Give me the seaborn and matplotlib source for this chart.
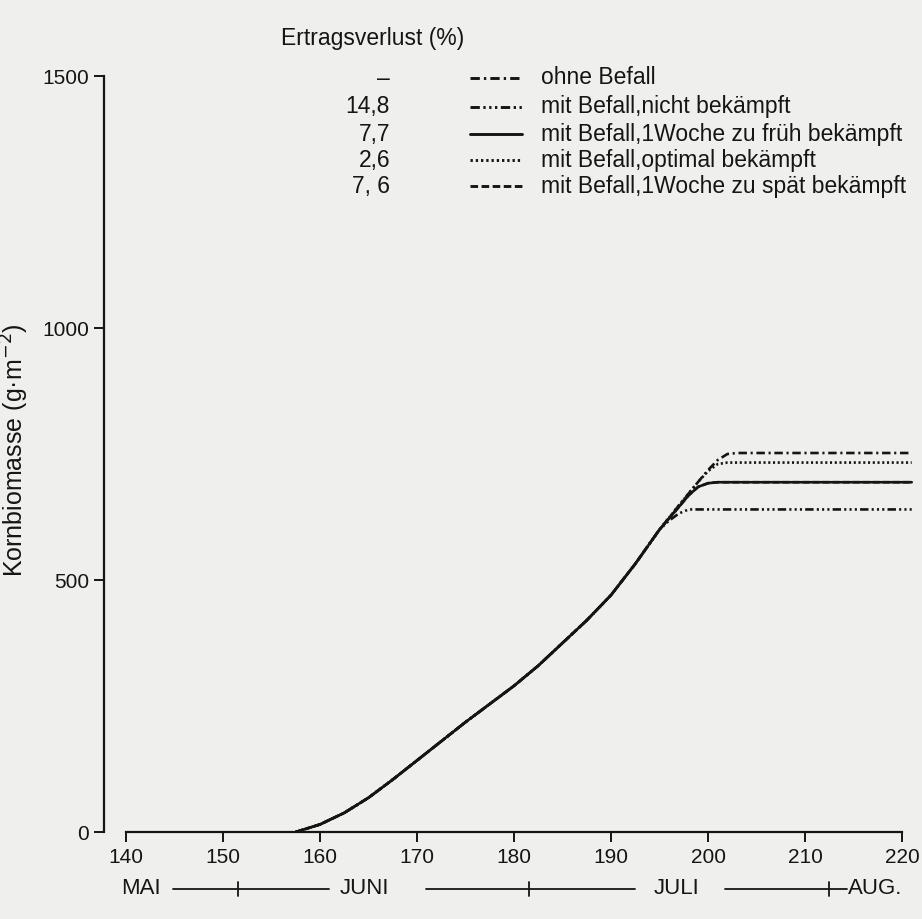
import matplotlib
matplotlib.use("Agg")
import matplotlib.pyplot as plt
from matplotlib.lines import Line2D
import matplotlib.transforms as mtransforms
import numpy as np
import pandas as pd
import seaborn as sns

sns.set_style("white")
plt.rcParams["font.family"] = ["Liberation Sans", "DejaVu Sans"]

# ---- data ----
common_days = [157.5, 160, 162.5, 165, 167.5, 170, 172.5, 175, 177.5, 180,
               182.5, 185, 187.5, 190, 192.5, 195]
common_vals = [0, 15, 38, 68, 104, 142, 180, 218, 254, 290,
               330, 375, 420, 470, 532, 600]

ohne_days = [197, 199, 200, 201, 202, 203, 221]
ohne_vals = [648, 695, 718, 738, 750, 752, 752]
nicht_days = [196, 197, 198, 221]
nicht_vals = [618, 632, 640, 640]
frueh_days = [197, 198, 199, 200, 201, 221]
frueh_vals = [645, 668, 685, 692, 694, 694]
optimal_days = [197, 199, 200, 201, 202, 221]
optimal_vals = [648, 695, 716, 730, 733, 733]
spaet_days = [197, 198, 199, 200, 201, 221]
spaet_vals = [645, 668, 685, 692, 694, 694]

series_names = ["ohne Befall", "mit Befall,nicht bekämpft",
                "mit Befall,1Woche zu früh bekämpft",
                "mit Befall,optimal bekämpft",
                "mit Befall,1Woche zu spät bekämpft"]
losses = ["\u2013", "14,8", "7,7", "2,6", "7, 6"]
x_ticks = [140, 150, 160, 170, 180, 190, 200, 210, 220]
y_ticks = [0, 500, 1000, 1500]
month_names = ["MAI", "JUNI", "JULI", "AUG."]
month_bounds = [151.5, 181.5, 212.5]

tails = [(ohne_days, ohne_vals), (nicht_days, nicht_vals), (frueh_days, frueh_vals),
         (optimal_days, optimal_vals), (spaet_days, spaet_vals)]
rows = []
for name, (d, v) in zip(series_names, tails):
    for dd, vv in zip(common_days + d, common_vals + v):
        rows.append({"day": dd, "value": vv, "series": name})
df = pd.DataFrame(rows)

dash_map = {
    series_names[0]: (3.2, 1.4, 0.8, 1.4),
    series_names[1]: (3.2, 1.2, 0.8, 1.2, 0.8, 1.2, 0.8, 1.2),
    series_names[2]: "",
    series_names[3]: (0.8, 1.0),
    series_names[4]: (2.6, 1.2),
}

BG = "#efefed"
INK = "#151515"
W, H = 922, 919
fig = plt.figure(figsize=(W / 100, H / 100), dpi=100, facecolor=BG)

x0px, y0px, ytop = 126, 832, 76
axw = 82 * 9.7
ax = fig.add_axes([x0px / W, (H - y0px) / H, axw / W, (y0px - ytop) / H])
ax.set_facecolor("none")

sns.lineplot(data=df, x="day", y="value", style="series", style_order=series_names,
             dashes=dash_map, color=INK, lw=1.9, legend=False, sort=False,
             estimator=None, ax=ax)

ax.set_xlim(140, 222)
ax.set_ylim(0, 1500)
for s in ["top", "right"]:
    ax.spines[s].set_visible(False)
ax.spines["left"].set_position(("outward", 16))
ax.spines["left"].set_bounds(0, 1500)
ax.spines["bottom"].set_bounds(140, 220)
for s in ["left", "bottom"]:
    ax.spines[s].set_color(INK)
    ax.spines[s].set_linewidth(1.6)
ax.set_xticks(x_ticks)
ax.set_yticks(y_ticks)
ax.tick_params(axis="both", direction="out", length=7.5, width=1.4, colors=INK,
               labelsize=15, left=True, bottom=True)
ax.tick_params(axis="x", pad=4)
ax.tick_params(axis="y", pad=3)
ax.set_xlabel("")
ax.set_ylabel("Kornbiomasse (g\u00b7m$^{-2}$)", fontsize=18, color=INK)
ax.yaxis.set_label_coords((31 - x0px) / axw, (y0px - 450) / (y0px - ytop))

# month bar
trans = mtransforms.blended_transform_factory(ax.transData, ax.transAxes)
my = (y0px - 889) / (y0px - ytop)
mt = 14 / (y0px - ytop)
segments = [(144.8, 160.9), (170.9, 192.5), (201.8, 214.3)]
for a, b in segments:
    ax.plot([a, b], [my, my], transform=trans, color=INK, lw=1.3, clip_on=False)
for mb in month_bounds:
    ax.plot([mb, mb], [my - mt / 2, my + mt / 2], transform=trans, color=INK,
            lw=1.3, clip_on=False)
month_x = [139.5, 164.6, 196.8, 214.4]
month_ha = ["left", "center", "center", "left"]
for name, mx, ha in zip(month_names, month_x, month_ha):
    ax.text(mx, my, name, transform=trans, ha=ha, va="center", fontsize=16,
            color=INK, clip_on=False)

# custom legend
def fx(px):
    return px / W

def fy(py):
    return 1 - py / H

fig.text(fx(281), fy(39), "Ertragsverlust (%)", ha="left", va="center",
         fontsize=16.5, color=INK)
row_y = [78, 107, 134, 160, 186]
for name, loss, ry in zip(series_names, losses, row_y):
    fig.text(fx(390), fy(ry), loss, ha="right", va="center", fontsize=16.5, color=INK)
    ln = Line2D([fx(470), fx(522)], [fy(ry), fy(ry)], transform=fig.transFigure,
                color=INK, lw=2.1)
    d = dash_map[name]
    if d:
        ln.set_dashes(d)
    fig.add_artist(ln)
    fig.text(fx(541), fy(ry), name, ha="left", va="center", fontsize=16.5, color=INK)

fig.savefig("out.png", dpi=100, facecolor=BG)
